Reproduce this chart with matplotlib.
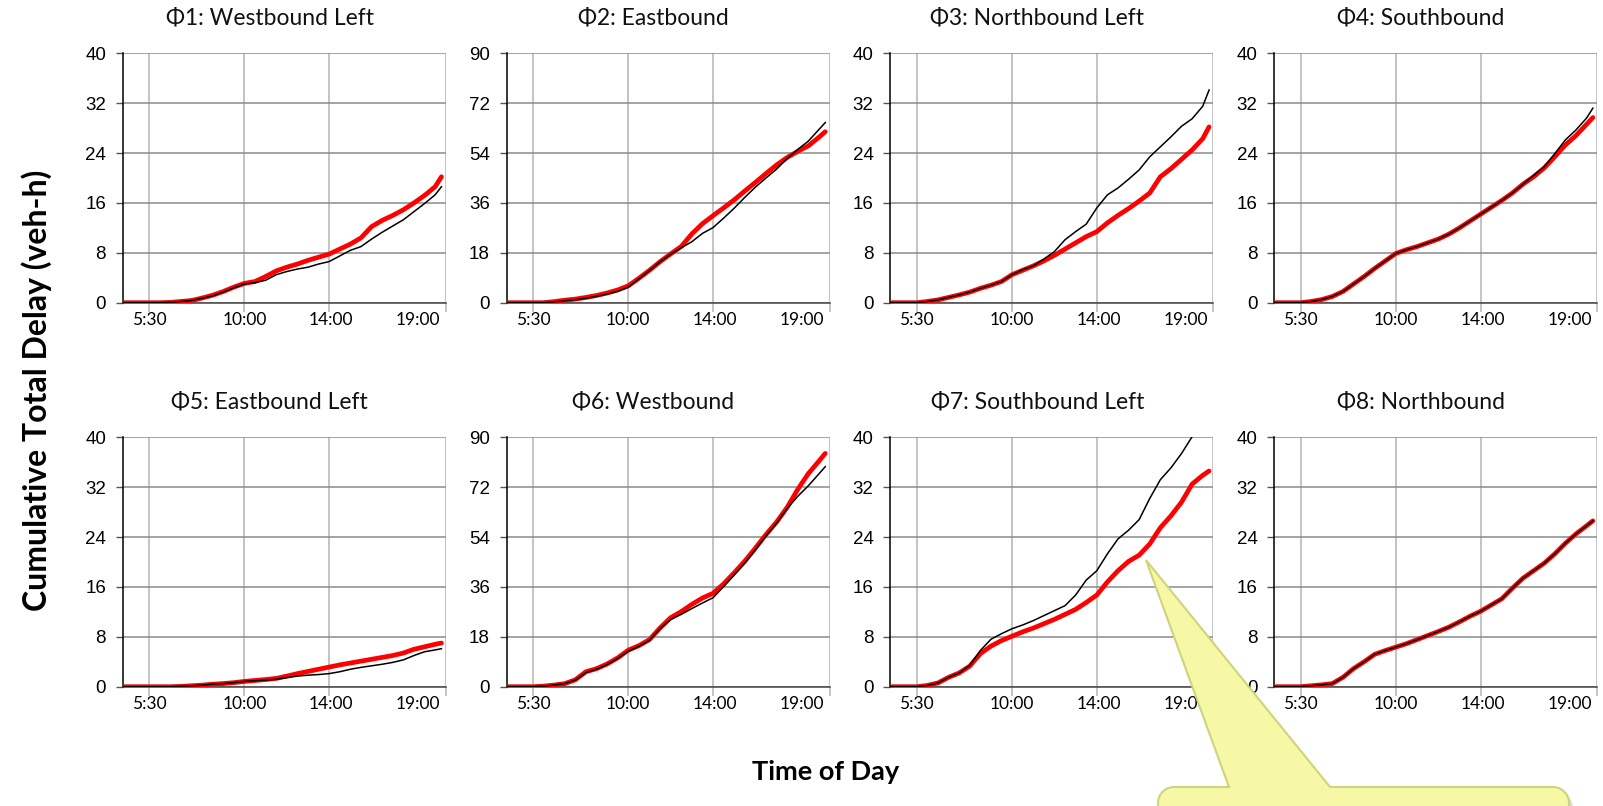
import numpy as np
import matplotlib.pyplot as plt
from matplotlib.patches import Polygon

plt.rcParams['font.family'] = ['Lato', 'DejaVu Sans']

# time of day in hours (common sampling for all panels)
hours = [4.25, 5.5, 6.0, 6.5, 7.0, 7.5, 8.0, 8.5, 9.0, 9.5, 10.0, 10.5, 11.0, 11.5, 12.0,
         12.5, 13.0, 13.5, 14.0, 14.5, 15.0, 15.5, 16.0, 16.5, 17.0, 17.5, 18.0, 18.5, 19.0, 19.3]

titles = ["Φ1: Westbound Left", "Φ2: Eastbound", "Φ3: Northbound Left", "Φ4: Southbound",
          "Φ5: Eastbound Left", "Φ6: Westbound", "Φ7: Southbound Left", "Φ8: Northbound"]
y_max = [40, 90, 40, 40, 40, 90, 40, 40]

tick_hours = [5.5, 10.0, 14.0, 19.5]
label_hours = [5.5, 10.0, 14.1, 18.2]
tick_text = ["5:30", "10:00", "14:00", "19:00"]

# red = thick line, blk = thin black line (veh-h)
red_p1 = [0, 0, 0, 0.05, 0.2, 0.35, 0.75, 1.2, 1.8, 2.5, 3.1, 3.4, 4.2, 5.1, 5.7,
          6.2, 6.8, 7.3, 7.8, 8.6, 9.4, 10.4, 12.2, 13.2, 14.0, 14.9, 16.0, 17.2, 18.6, 20.2]
blk_p1 = [0, 0, 0, 0.05, 0.2, 0.35, 0.7, 1.1, 1.7, 2.4, 3.0, 3.2, 3.6, 4.5, 5.0,
          5.4, 5.7, 6.2, 6.6, 7.5, 8.4, 9.0, 10.2, 11.3, 12.3, 13.3, 14.6, 15.9, 17.3, 18.6]

red_p2 = [0, 0, 0, 0.4, 0.9, 1.3, 1.9, 2.6, 3.5, 4.6, 6.1, 8.8, 11.7, 14.8, 17.6,
          20.3, 24.8, 28.5, 31.4, 34.2, 37.1, 40.3, 43.4, 46.6, 49.7, 52.4, 54.6, 56.6, 59.7, 61.7]
blk_p2 = [0, 0, 0, 0.3, 0.7, 1.1, 1.6, 2.3, 3.1, 4.1, 5.6, 8.6, 11.6, 14.8, 17.5,
          19.8, 22.0, 25.0, 27.1, 30.5, 34.1, 38.0, 41.7, 45.0, 48.2, 52.0, 55.3, 58.3, 62.5, 65.0]

red_p3 = [0, 0, 0.2, 0.45, 0.85, 1.25, 1.7, 2.3, 2.8, 3.4, 4.5, 5.2, 5.9, 6.7, 7.6,
          8.6, 9.6, 10.6, 11.4, 12.8, 14.0, 15.1, 16.3, 17.6, 20.2, 21.5, 23.0, 24.5, 26.3, 28.2]
blk_p3 = [0, 0, 0.2, 0.45, 0.85, 1.25, 1.7, 2.3, 2.8, 3.4, 4.5, 5.3, 5.9, 7.0, 8.2,
          10.1, 11.4, 12.6, 15.2, 17.3, 18.4, 19.8, 21.3, 23.4, 25.0, 26.6, 28.3, 29.5, 31.5, 34.1]

red_p4 = [0, 0, 0.2, 0.5, 1.0, 1.8, 3.0, 4.2, 5.5, 6.7, 7.9, 8.5, 9.0, 9.6, 10.2,
          11.0, 12.0, 13.1, 14.2, 15.3, 16.4, 17.6, 19.0, 20.2, 21.6, 23.4, 25.3, 26.8, 28.6, 29.7]
blk_p4 = [0, 0, 0.2, 0.5, 1.0, 1.8, 3.0, 4.2, 5.5, 6.7, 7.9, 8.5, 9.0, 9.6, 10.2,
          11.0, 12.0, 13.1, 14.2, 15.3, 16.4, 17.6, 19.0, 20.4, 21.8, 23.9, 26.1, 27.7, 29.6, 31.2]

red_p5 = [0, 0, 0, 0, 0.05, 0.15, 0.25, 0.4, 0.5, 0.65, 0.85, 1.0, 1.15, 1.33, 1.7,
          2.1, 2.45, 2.8, 3.15, 3.5, 3.8, 4.1, 4.4, 4.7, 5.0, 5.4, 6.0, 6.4, 6.8, 7.0]
blk_p5 = [0, 0, 0, 0, 0.05, 0.15, 0.25, 0.4, 0.5, 0.65, 0.85, 0.95, 1.05, 1.2, 1.45,
          1.7, 1.85, 1.95, 2.1, 2.4, 2.8, 3.1, 3.35, 3.6, 3.9, 4.3, 5.0, 5.6, 5.9, 6.1]

red_p6 = [0, 0, 0.2, 0.6, 1.1, 2.5, 5.4, 6.5, 8.2, 10.4, 13.2, 14.8, 17.0, 21.2, 24.9,
          27.1, 29.7, 32.0, 33.7, 37.1, 41.1, 45.3, 50.0, 54.9, 59.4, 64.7, 71.2, 76.9, 81.4, 84.2]
blk_p6 = [0, 0, 0.2, 0.6, 1.1, 2.4, 5.1, 6.3, 8.0, 10.2, 12.8, 14.6, 16.7, 21.0, 24.2,
          26.1, 28.2, 30.2, 32.1, 36.1, 40.3, 44.6, 49.4, 54.4, 59.0, 64.3, 68.7, 72.5, 76.8, 79.4]

red_p7 = [0, 0, 0.2, 0.6, 1.5, 2.2, 3.3, 5.3, 6.5, 7.4, 8.1, 8.8, 9.4, 10.1, 10.8,
          11.6, 12.4, 13.5, 14.7, 16.8, 18.6, 20.1, 21.1, 22.9, 25.5, 27.4, 29.6, 32.5, 33.9, 34.6]
blk_p7 = [0, 0, 0.2, 0.6, 1.5, 2.2, 3.4, 5.8, 7.6, 8.5, 9.3, 9.9, 10.6, 11.4, 12.2,
          13.0, 14.7, 17.1, 18.6, 21.3, 23.7, 25.1, 26.8, 30.2, 33.2, 35.1, 37.4, 40.1, 42.2, 43.5]

red_p8 = [0, 0, 0.15, 0.3, 0.5, 1.5, 2.9, 4.0, 5.2, 5.8, 6.35, 6.9, 7.55, 8.2, 8.85,
          9.55, 10.4, 11.3, 12.1, 13.1, 14.1, 15.8, 17.4, 18.6, 19.8, 21.3, 23.0, 24.5, 25.8, 26.6]
blk_p8 = [0, 0, 0.15, 0.3, 0.5, 1.5, 2.9, 4.0, 5.2, 5.8, 6.35, 6.9, 7.55, 8.2, 8.85,
          9.55, 10.4, 11.3, 12.1, 13.1, 14.1, 15.8, 17.4, 18.6, 19.8, 21.3, 23.0, 24.5, 25.8, 26.6]

reds = [red_p1, red_p2, red_p3, red_p4, red_p5, red_p6, red_p7, red_p8]
blacks = [blk_p1, blk_p2, blk_p3, blk_p4, blk_p5, blk_p6, blk_p7, blk_p8]

W, H = 1603, 806
fig = plt.figure(figsize=(W / 100, H / 100), dpi=100)

col_left = [122.7, 506.5, 890.3, 1274.1]
row_bottom = [302.7, 686.7]
ax_w, ax_h = 323, 249.4

for i in range(8):
    r, c = divmod(i, 4)
    ax = fig.add_axes([col_left[c] / W, 1 - row_bottom[r] / H, ax_w / W, ax_h / H])
    ax.plot(hours, reds[i], color='#ff0000', lw=3.4, solid_capstyle='round', zorder=3)
    ax.plot(hours, blacks[i], color='black', lw=1.1, zorder=4)

    ax.set_xlim(4.25, 19.5)
    ax.set_ylim(0, y_max[i])
    ax.set_yticks(np.arange(0, y_max[i] + 1, y_max[i] // 5))
    ax.xaxis.remove_overlapping_locs = False
    ax.set_xticks(tick_hours, [''] * 4)
    ax.set_xticks(label_hours, tick_text, minor=True)

    ax.grid(axis='x', which='major', color='#b4b4b4', lw=1.1)
    ax.grid(axis='y', color='#8a8a8a', lw=1.1)
    ax.set_axisbelow(True)

    ax.tick_params(axis='x', which='major', length=6.5, width=1.1, color='#b4b4b4', direction='out')
    ax.tick_params(axis='x', which='minor', length=0, pad=7, labelsize=12.5)
    ax.tick_params(axis='y', length=5, width=1, color='#555555', pad=7, labelsize=13.5)
    for lab in ax.get_yticklabels():
        lab.set_fontfamily('Liberation Sans')

    for s in ['top', 'right']:
        ax.spines[s].set_visible(False)
    ax.spines['left'].set_color('black')
    ax.spines['left'].set_linewidth(1.1)
    ax.spines['bottom'].set_color('#444444')
    ax.spines['bottom'].set_linewidth(1.1)

    ax.text(0.455, 1.143, titles[i], transform=ax.transAxes, ha='center', va='center',
            fontsize=16.5, color='#111111')

fig.text(37 / W, 1 - 390 / H, "Cumulative Total Delay (veh-h)", rotation=90,
         ha='center', va='center', fontsize=23, fontweight='bold')
fig.text(826 / W, 1 - 772 / H, "Time of Day", ha='center', va='center',
         fontsize=19.5, fontweight='bold')

# yellow callout pointing at the Φ7 curves
def callout_outline(tip, base_l, base_r, left, top, right, bottom, rad):
    pts = [tip, (base_r, top)]
    a = np.linspace(np.pi / 2, 0, 10)
    pts += [(right - rad + rad * np.cos(t), top + rad - rad * np.sin(t)) for t in a]
    pts += [(right, bottom), (left, bottom)]
    a = np.linspace(np.pi, np.pi / 2, 10)
    pts += [(left + rad + rad * np.cos(t), top + rad - rad * np.sin(t)) for t in a]
    pts += [(base_l, top)]
    return [(x / W, 1 - y / H) for x, y in pts]

outline = callout_outline((1146, 560), 1229, 1330, 1158, 787, 1569, 830, 16)
shadow = [(x + 4 / W, y - 5 / H) for x, y in outline]
fig.add_artist(Polygon(shadow, closed=True, transform=fig.transFigure, facecolor='#9a9a9a',
                       edgecolor='none', alpha=0.35, zorder=9))
fig.add_artist(Polygon(outline, closed=True, transform=fig.transFigure, facecolor='#f7f8a6',
                       edgecolor='#cdd47c', lw=1.5, zorder=10))

fig.savefig('out.png', dpi=100)
